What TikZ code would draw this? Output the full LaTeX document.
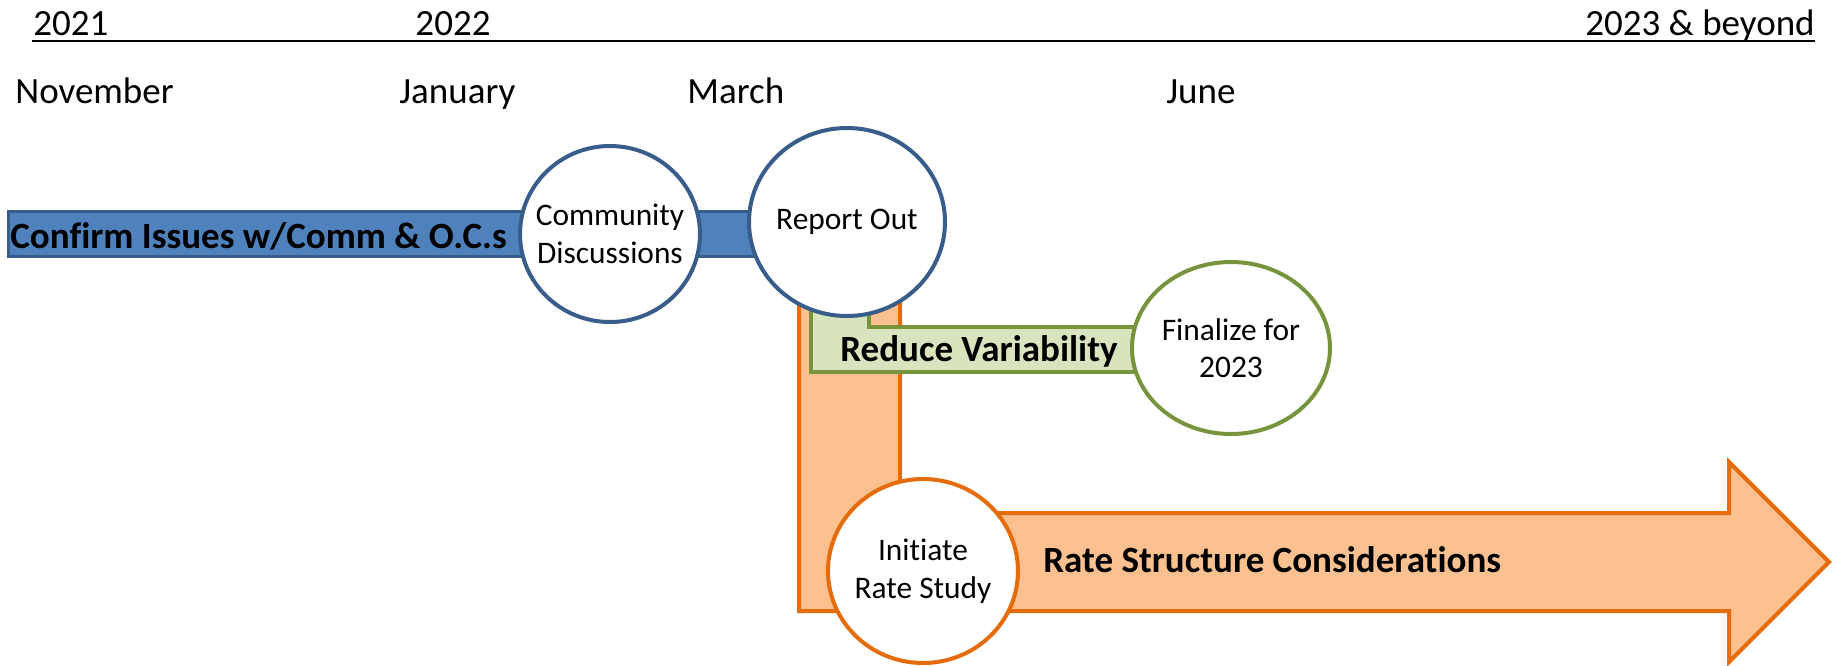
\documentclass[tikz,border=0pt]{standalone}
\usepackage{fontspec}
\setmainfont{Carlito}[Ligatures=NoCommon]
\usetikzlibrary{shapes.geometric}
\definecolor{barblue}{HTML}{4F81BD}
\definecolor{lineblue}{HTML}{385D8A}
\definecolor{barorange}{HTML}{FAC090}
\definecolor{lineorange}{HTML}{E46C0A}
\definecolor{bargreen}{HTML}{D7E4BD}
\definecolor{linegreen}{HTML}{77933C}
\begin{document}
\begin{tikzpicture}[x=0.5pt,y=-0.5pt,
  label/.style={font=\fontsize{18.5}{22}\selectfont,inner sep=0pt},
  bold label/.style={label,font=\fontsize{18.5}{22}\selectfont\bfseries},
  oval/.style={ellipse,draw,fill=white,line width=2pt,inner xsep=-8pt,inner ysep=0pt,align=center,
    font=\fontsize{15.7}{18.8}\selectfont},
  bluebar/.style={draw=lineblue,fill=barblue,line width=1.5pt},
  orangebar/.style={draw=lineorange,fill=barorange,line width=2pt},
  greenbar/.style={draw=linegreen,fill=bargreen,line width=2pt}]
\useasboundingbox (0,0) rectangle (1842,665);
% years and months
\node[label,anchor=base west] (y2021) at (33,35) {2021};
\node[label,anchor=base] (y2022) at (453,35) {2022};
\node[label,anchor=base east] (y2023) at (1815,35) {2023 \& beyond};
\draw[line width=1pt] (32,41) -- (1815,41);
\node[label,anchor=base west] (nov) at (15,103) {November};
\node[label,anchor=base west] (jan) at (399,103) {January};
\node[label,anchor=base west] (mar) at (687,103) {March};
\node[label,anchor=base west] (jun) at (1166,103) {June};
% bars
\draw[orangebar] (799,290) -- (799,611) -- (1729,611) -- (1729,662) -- (1829,562)
  -- (1729,462) -- (1729,513) -- (900,513) -- (900,290) -- cycle;
\draw[greenbar] (811,295) -- (811,372) -- (1150,372) -- (1150,327) -- (869,327)
  -- (869,295) -- cycle;
\draw[bluebar] (8,211) rectangle (800,256);
\node[bold label,anchor=base west] (confirm) at (10,248) {Confirm Issues w/Comm \& O.C.s};
\node[bold label,anchor=base west] (reduce) at (840,361) {Reduce Variability};
\node[bold label,anchor=base west] (rate) at (1043,572) {Rate Structure Considerations};
% milestones
\node[oval,draw=lineblue,minimum width=90pt,minimum height=88pt] (community) at (610,234) {Community\\Discussions};
\node[oval,draw=lineblue,minimum width=98pt,minimum height=94pt] (report) at (847,222) {Report Out};
\node[oval,draw=linegreen,minimum width=99pt,minimum height=86pt] (finalize) at (1231,348) {Finalize for\\2023};
\node[oval,draw=lineorange,minimum width=95pt,minimum height=92pt] (initiate) at (923,571) {Initiate\\Rate Study};
\end{tikzpicture}
\end{document}
